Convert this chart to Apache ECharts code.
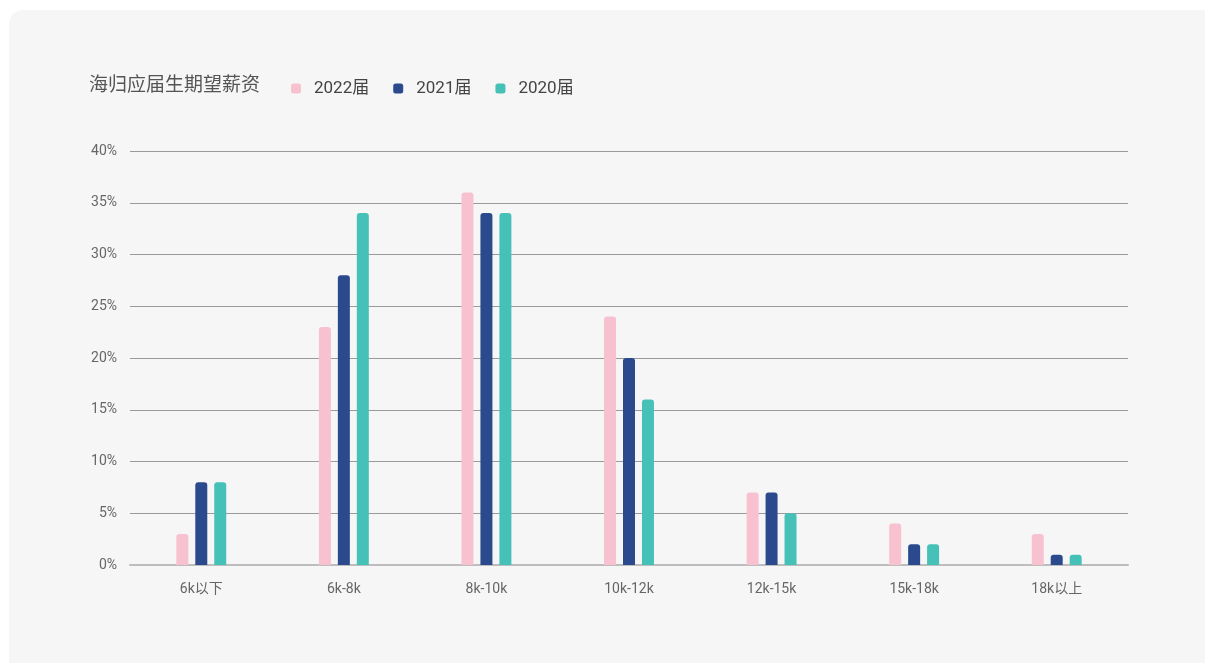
<!DOCTYPE html>
<html><head><meta charset="utf-8">
<script src="https://cdn.jsdelivr.net/npm/echarts@6/dist/echarts.min.js"></script>
<style>
html,body{margin:0;padding:0;background:#fff;width:1205px;height:663px;overflow:hidden;}
#bg{position:absolute;left:9px;top:10px;width:1210px;height:670px;background:#f6f6f6;border-radius:14px;}
#c{position:absolute;left:0;top:0;width:1205px;height:663px;}
</style></head>
<body><div id="bg"></div><div id="c"></div>
<script>
const categories = ['6k以下','6k-8k','8k-10k','10k-12k','12k-15k','15k-18k','18k以上'];
const s2022 = [3, 23, 36, 24, 7, 4, 3];
const s2021 = [8, 28, 34, 20, 7, 2, 1];
const s2020 = [8, 34, 34, 16, 5, 2, 1];
const seriesNames = ['2022届','2021届','2020届'];
const colors = ['#f8c1d0','#2b4a8e','#45c1b7'];
const font = "Roboto,'Noto Sans CJK SC',sans-serif";
const chart = echarts.init(document.getElementById('c'), null, {renderer:'canvas'});
const data = [s2022, s2021, s2020];
chart.setOption({
  backgroundColor:'transparent',
  animation:false,
  title:{text:'海归应届生期望薪资',left:84,top:72,textStyle:{fontFamily:font,fontSize:19,fontWeight:'normal',color:'#555'}},
  legend:{left:286,top:75,itemWidth:10,itemHeight:10,itemGap:24,icon:'roundRect',
    textStyle:{fontFamily:font,fontSize:17,color:'#444',padding:[0,0,0,8]},data:seriesNames},
  grid:{left:130,right:77,top:151,bottom:98},
  xAxis:{type:'category',data:categories,
    axisLine:{lineStyle:{color:'#bdbdbd',width:2}},axisTick:{show:false},
    axisLabel:{fontFamily:font,fontSize:14,color:'#666',margin:17}},
  yAxis:{type:'value',min:0,max:40,interval:5,
    axisLine:{show:false},axisTick:{show:false},
    splitLine:{lineStyle:{color:'#9a9a9a',width:1}},
    axisLabel:{formatter:'{value}%',fontFamily:font,fontSize:14,color:'#666',margin:13,padding:[0,0,7,0]}},
  series:seriesNames.map((n,i)=>({name:n,type:'bar',data:data[i],barWidth:12,barGap:'58%',
    itemStyle:{color:colors[i],borderRadius:[3,3,0,0]}}))
});
</script></body></html>
